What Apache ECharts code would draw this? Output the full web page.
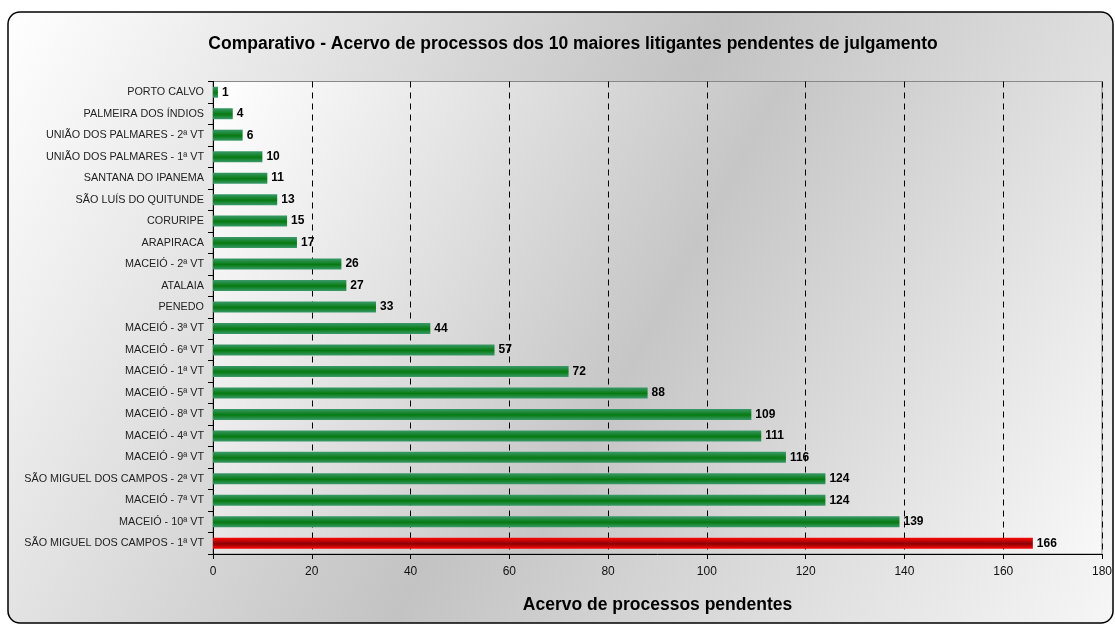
<!DOCTYPE html>
<html><head><meta charset="utf-8">
<script src="https://cdn.jsdelivr.net/npm/echarts@6/dist/echarts.min.js"></script>
<style>html,body{margin:0;padding:0;background:#fff}#c{width:1115px;height:626px}</style>
</head><body><div id="c"></div>
<script>
const categories = ['PORTO CALVO','PALMEIRA DOS ÍNDIOS','UNIÃO DOS PALMARES - 2ª VT','UNIÃO DOS PALMARES - 1ª VT','SANTANA DO IPANEMA','SÃO LUÍS DO QUITUNDE','CORURIPE','ARAPIRACA','MACEIÓ - 2ª VT','ATALAIA','PENEDO','MACEIÓ - 3ª VT','MACEIÓ - 6ª VT','MACEIÓ - 1ª VT','MACEIÓ - 5ª VT','MACEIÓ - 8ª VT','MACEIÓ - 4ª VT','MACEIÓ - 9ª VT','SÃO MIGUEL DOS CAMPOS - 2ª VT','MACEIÓ - 7ª VT','MACEIÓ - 10ª VT','SÃO MIGUEL DOS CAMPOS - 1ª VT'];
const values = [1,4,6,10,11,13,15,17,26,27,33,44,57,72,88,109,111,116,124,124,139,166];
const highlighted = ['SÃO MIGUEL DOS CAMPOS - 1ª VT'];
const xTicks = [0,20,40,60,80,100,120,140,160,180];

const grad = (a,b,c)=>new echarts.graphic.LinearGradient(0,0,0,1,[{offset:0,color:a},{offset:0.55,color:b},{offset:1,color:c}]);
const greenFill = grad('#3a9a6a','#067a10','#3a9a6a');
const redFill = grad('#ff0a0a','#8a0000','#ff0a0a');
const bg = new echarts.graphic.LinearGradient(0,0,1,1,[{offset:0,color:'#ffffff'},{offset:0.5,color:'#c3c3c3'},{offset:1,color:'#f6f6f6'}]);
const plotBg = new echarts.graphic.LinearGradient(0,0,1,1,[{offset:0,color:'#ffffff'},{offset:0.5,color:'#c6c6c6'},{offset:1,color:'#f8f8f8'}]);

const chart = echarts.init(document.getElementById('c'));
chart.setOption({
  animation:false,
  graphic:[{type:'rect',z:-10,shape:{x:8,y:12,width:1105,height:611,r:12},style:{fill:bg,stroke:'#000',lineWidth:1.5}}],
  title:{text:'Comparativo - Acervo de processos dos 10 maiores litigantes pendentes de julgamento',left:568,top:30,textAlign:'center',
    textStyle:{fontFamily:'Liberation Sans',fontSize:17.5,fontWeight:'bold',color:'#000'}},
  grid:{left:213,right:13,top:81.5,bottom:72,show:true,backgroundColor:plotBg,borderColor:'#888',borderWidth:1},
  xAxis:{type:'value',min:0,max:180,interval:20,
    name:'Acervo de processos pendentes',nameLocation:'middle',nameGap:42,
    nameTextStyle:{fontFamily:'Liberation Sans',fontSize:17.5,fontWeight:'bold',color:'#000'},
    axisLine:{show:true,lineStyle:{color:'#000',width:1}},
    axisTick:{show:true,length:5,lineStyle:{color:'#000'}},
    axisLabel:{fontFamily:'Liberation Sans',fontSize:12,color:'#111',margin:12,formatter:v=>xTicks.includes(v)?String(v):''},
    splitLine:{show:true,lineStyle:{color:'#000',type:[6,5],width:1}}},
  yAxis:{type:'category',data:categories,inverse:true,
    axisLine:{show:true,lineStyle:{color:'#000',width:1}},
    axisTick:{show:true,length:5,lineStyle:{color:'#000'}},
    axisLabel:{fontFamily:'Liberation Sans',fontSize:10.8,color:'#222',margin:9},
    splitLine:{show:false}},
  series:[{type:'bar',barWidth:11,
    data:values.map((v,i)=>({value:v,itemStyle:{color:highlighted.includes(categories[i])?redFill:greenFill}})),
    label:{show:true,position:'right',distance:4,fontFamily:'Liberation Sans',fontSize:12,fontWeight:'bold',color:'#000'}}]
});
</script></body></html>
